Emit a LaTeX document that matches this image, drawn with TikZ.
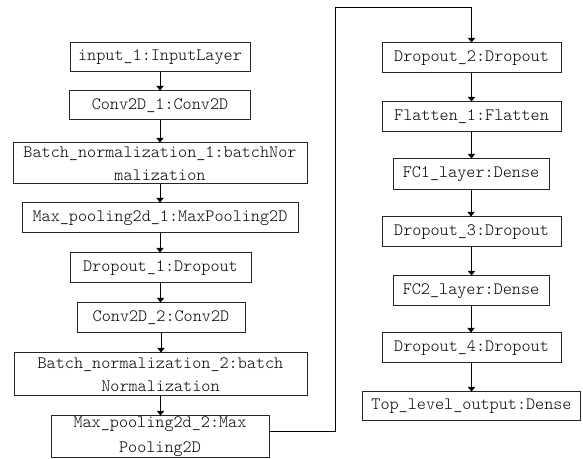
\documentclass[tikz,border=0pt]{standalone}
\usetikzlibrary{arrows.meta}
\begin{document}
\begin{tikzpicture}[x=0.75pt,y=-0.75pt,
  lay/.style 2 args={draw=black!85,line width=0.75pt,inner sep=0pt,align=center,
    minimum width=0.75*#1pt,minimum height=0.75*#2pt,
    font=\fontsize{13pt}{15.6pt}\ttfamily\fontseries{l}\selectfont},
  arr/.style={draw=black,line width=0.75pt,-{Triangle[length=3.5pt,width=5.5pt]}}]
\useasboundingbox (0,0) rectangle (583,459);
% left column
\node[lay={180}{29}] (in) at (160,57.5) {input\_1:InputLayer};
\node[lay={181}{29}] (c1) at (160,105.5) {Conv2D\_1:Conv2D};
\node[lay={294}{41}, font=\fontsize{13pt}{17pt}\ttfamily\fontseries{l}\selectfont] (bn1) at (160,163.5) {Batch\_normalization\_1:batchNor\\malization};
\node[lay={276}{30}] (mp1) at (160,218) {Max\_pooling2d\_1:MaxPooling2D};
\node[lay={181}{30}] (d1) at (160.5,268) {Dropout\_1:Dropout};
\node[lay={168}{30}] (c2) at (161,318) {Conv2D\_2:Conv2D};
\node[lay={293}{43}, font=\fontsize{13pt}{17.5pt}\ttfamily\fontseries{l}\selectfont] (bn2) at (160.5,374.5) {Batch\_normalization\_2:batch\\Normalization};
\node[lay={218}{42}, font=\fontsize{13pt}{18.5pt}\ttfamily\fontseries{l}\selectfont] (mp2) at (160,437) {Max\_pooling2d\_2:Max\\Pooling2D};
% right column
\node[lay={179}{30}] (d2) at (471.5,58) {Dropout\_2:Dropout};
\node[lay={179}{30}] (fl) at (471.5,117) {Flatten\_1:Flatten};
\node[lay={156}{31}] (fc1) at (471,174.5) {FC1\_layer:Dense};
\node[lay={179}{30}] (d3) at (471.5,232) {Dropout\_3:Dropout};
\node[lay={156}{30}] (fc2) at (471,291) {FC2\_layer:Dense};
\node[lay={179}{30}] (d4) at (471.5,348) {Dropout\_4:Dropout};
\node[lay={218}{29}] (top) at (471.5,406.5) {Top\_level\_output:Dense};
% connectors
\draw[arr] (in.south) -- (in.south |- c1.north);
\draw[arr] (c1.south) -- (c1.south |- bn1.north);
\draw[arr] (bn1.south) -- (bn1.south |- mp1.north);
\draw[arr] (mp1.south) -- (mp1.south |- d1.north);
\draw[arr] (d1.south) -- (d1.south |- c2.north);
\draw[arr] (c2.south) -- (c2.south |- bn2.north);
\draw[arr] (bn2.south) -- (bn2.south |- mp2.north);
\coordinate (t1) at (335,7.3);
\draw[arr] ([yshift=3.75pt]mp2.east) -| (t1) -| (d2.north);
\draw[arr] (d2.south) -- (d2.south |- fl.north);
\draw[arr] (fl.south) -- (fl.south |- fc1.north);
\draw[arr] (fc1.south) -- (fc1.south |- d3.north);
\draw[arr] (d3.south) -- (d3.south |- fc2.north);
\draw[arr] (fc2.south) -- (fc2.south |- d4.north);
\draw[arr] (d4.south) -- (d4.south |- top.north);
\end{tikzpicture}
\end{document}
